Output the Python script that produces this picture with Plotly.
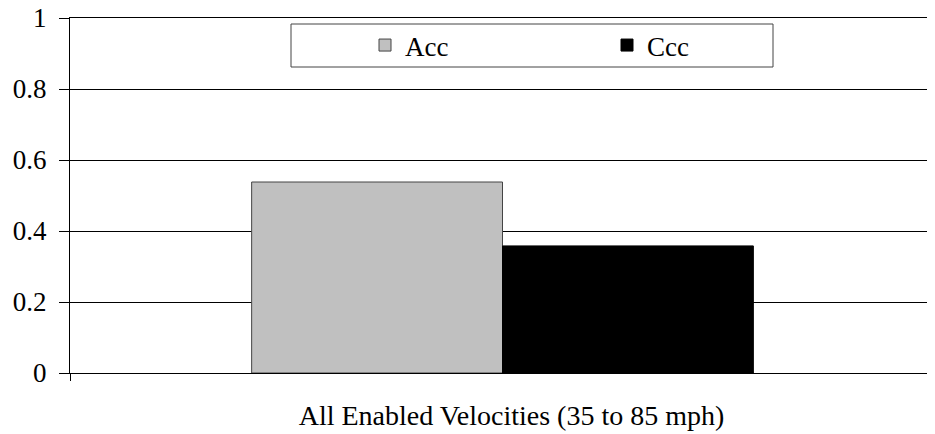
import plotly.graph_objects as go

categories = ["All Enabled Velocities (35 to 85 mph)"]
acc_values = [0.538]
ccc_values = [0.358]
y_ticks = [0, 0.2, 0.4, 0.6, 0.8, 1]
y_tick_labels = ["0", "0.2", "0.4", "0.6", "0.8", "1"]

FONT = "Liberation Serif"

fig = go.Figure()
fig.add_trace(go.Bar(name="Acc", x=categories, y=acc_values,
                     marker=dict(color="#C0C0C0", line=dict(color="#444444", width=1))))
fig.add_trace(go.Bar(name="Ccc", x=categories, y=ccc_values,
                     marker=dict(color="#000000", line=dict(color="#000000", width=1))))

fig.update_layout(
    width=935, height=434,
    margin=dict(l=62, r=8, t=10, b=69, autoexpand=False),
    paper_bgcolor="white", plot_bgcolor="white",
    font=dict(family=FONT, size=27, color="black"),
    barmode="group", bargap=0.42, bargroupgap=0,
    showlegend=True,
    legend=dict(orientation="h", x=(365 - 70) / 865, xanchor="left",
                y=(373 - 45.5) / 355, yanchor="middle",
                entrywidth=197, entrywidthmode="pixels",
                bgcolor="rgba(0,0,0,0)", borderwidth=0,
                font=dict(family=FONT, size=27)),
    shapes=[dict(type="rect", xref="paper", yref="paper",
                 x0=(291 - 70) / 865, x1=(773 - 70) / 865,
                 y0=(373 - 67) / 355, y1=(373 - 24) / 355,
                 line=dict(color="#444444", width=1), fillcolor="rgba(0,0,0,0)",
                 layer="above")],
)

fig.update_yaxes(range=[0, 1], tickvals=y_ticks, ticktext=y_tick_labels,
                 showgrid=True, gridcolor="black", gridwidth=1,
                 showline=True, linecolor="black", linewidth=1,
                 ticks="outside", ticklen=10, tickcolor="black",
                 ticklabelstandoff=7, ticklabeloverflow="allow", automargin=False,
                 zeroline=False, tickfont=dict(family=FONT, size=27))
fig.update_xaxes(showline=True, linecolor="black", linewidth=1, mirror=True,
                 ticks="outside", tickson="boundaries", ticklen=7, tickcolor="black",
                 ticklabelstandoff=17, ticklabelshift=9, automargin=False,
                 showgrid=False, tickfont=dict(family=FONT, size=28))

fig.write_html("out.html")
